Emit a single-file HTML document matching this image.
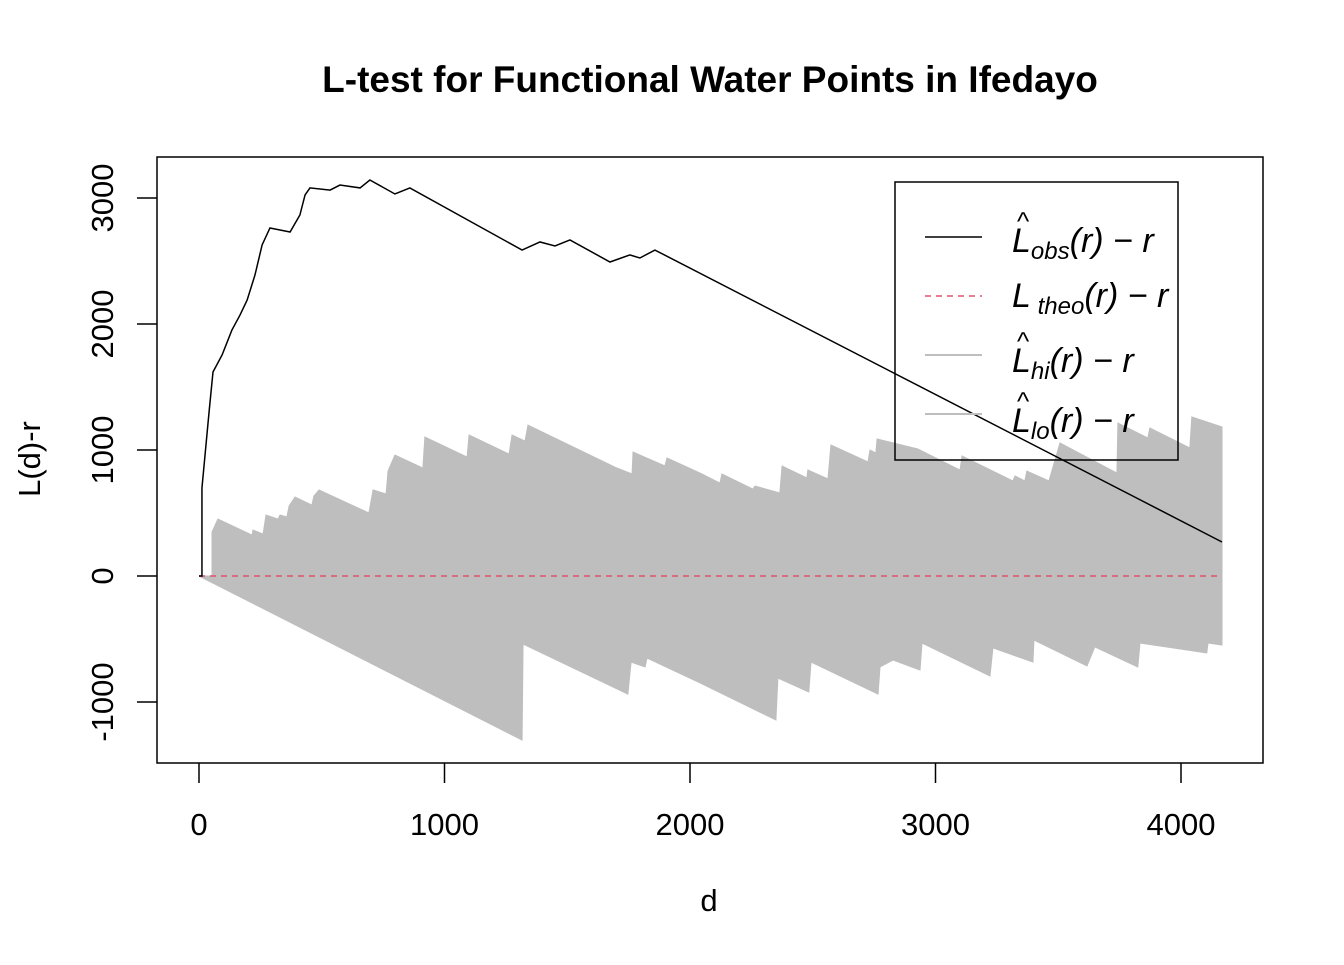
<!DOCTYPE html>
<html><head><meta charset="utf-8"><style>
body{margin:0;background:#fff}
svg text{font-family:"Liberation Sans",Arial,sans-serif}
.m{font-family:"Liberation Serif",serif;font-style:italic}
</style></head><body>
<svg id="chart" width="1344" height="960">
<text x="710" y="92" text-anchor="middle" font-size="37" font-weight="bold">L-test for Functional Water Points in Ifedayo</text>
<g id="plot"></g>
<rect x="157" y="157" width="1106" height="606" fill="none" stroke="#000" stroke-width="1.5"/>
<g id="axes"></g>
<text x="709" y="911" text-anchor="middle" font-size="31">d</text>
<text transform="translate(40,459) rotate(-90)" text-anchor="middle" font-size="31">L(d)-r</text>
<g>
<rect x="895" y="182" width="283" height="278" fill="none" stroke="#000" stroke-width="1.5"/>
<line x1="925" y1="237" x2="982" y2="237" stroke="#000" stroke-width="1.5"/>
<line x1="925" y1="296" x2="982" y2="296" stroke="#DF536B" stroke-width="1.5" stroke-dasharray="6,5"/>
<line x1="925" y1="355" x2="982" y2="355" stroke="#bebebe" stroke-width="2"/>
<line x1="925" y1="414" x2="982" y2="414" stroke="#bebebe" stroke-width="2"/>
<g class="m" font-size="34">
<text x="1012" y="252">L<tspan font-size="24" dy="7">obs</tspan><tspan dy="-7">(r) − r</tspan></text>
<text x="1017" y="230" font-size="26" font-style="normal">^</text>
<text x="1012" y="307">L<tspan font-size="24" dy="7"> theo</tspan><tspan dy="-7">(r) − r</tspan></text>
<text x="1012" y="372">L<tspan font-size="24" dy="7">hi</tspan><tspan dy="-7">(r) − r</tspan></text>
<text x="1017" y="350" font-size="26" font-style="normal">^</text>
<text x="1012" y="432">L<tspan font-size="24" dy="7">lo</tspan><tspan dy="-7">(r) − r</tspan></text>
<text x="1017" y="410" font-size="26" font-style="normal">^</text>
</g></g>
</svg>
<script>
const xTicks=[0,1000,2000,3000,4000];
const yTicks=[-1000,0,1000,2000,3000];
const hiD=[0,53,53,77,216,220,261,273,322,330,358,367,391,460,468,489,692,709,762,770,798,912,920,1092,1100,1263,1275,1328,1340,1702,1764,1768,1898,1906,2041,2122,2130,2256,2265,2366,2375,2476,2480,2562,2574,2725,2733,2757,2762,2928,3100,3108,3315,3324,3364,3372,3462,3507,3739,3743,3865,3873,4036,4044,4167];
const hiV=[0,0,349,452,325,365,333,484,452,484,468,556,627,563,635,683,500,683,651,833,960,857,1103,944,1119,968,1119,1071,1198,857,810,984,873,937,817,738,810,690,714,659,873,778,841,770,1040,905,1000,976,1087,1008,841,952,754,794,754,833,754,1056,817,1214,1095,1175,1016,1262,1183];
const loD=[0,1316,1320,1747,1760,1817,1825,2041,2350,2358,2484,2493,2766,2774,2827,2937,2945,3222,3234,3397,3401,3617,3649,3824,3833,4105,4110,4167];
const loV=[0,-1302,-540,-937,-683,-722,-651,-849,-1143,-810,-921,-683,-937,-722,-667,-746,-532,-794,-571,-683,-508,-714,-563,-722,-532,-611,-532,-548];
const obsD=[0,12,12,41,57,94,134,167,196,228,257,289,371,411,432,452,534,574,656,696,798,859,1316,1389,1450,1511,1674,1755,1796,1857,4167];
const obsV=[0,0,698,1302,1619,1754,1952,2071,2190,2389,2627,2762,2730,2865,3024,3080,3063,3103,3080,3143,3032,3080,2587,2651,2619,2667,2492,2548,2524,2587,270];
const theoD=[0,4167];
const theoV=[0,0];
const X=d=>199+d*0.2455, Y=v=>576-v*0.126;
const NS="http://www.w3.org/2000/svg";
const plot=document.getElementById('plot'), axes=document.getElementById('axes');
function mk(t,a,p){const e=document.createElementNS(NS,t);for(const k in a)e.setAttribute(k,a[k]);p.appendChild(e);return e;}
let pts=hiD.map((d,i)=>X(d)+','+Y(hiV[i]));
for(let i=loD.length-1;i>=0;i--)pts.push(X(loD[i])+','+Y(loV[i]));
const env=mk('polygon',{points:pts.join(' '),fill:'#bebebe',stroke:'#bebebe','stroke-width':1},plot);


const th=mk('polyline',{points:theoD.map((d,i)=>X(d)+','+Y(theoV[i])).join(' '),fill:'none',stroke:'#DF536B','stroke-width':1.5,'stroke-dasharray':'6,5'},plot);


const ob=mk('polyline',{points:obsD.map((d,i)=>X(d)+','+Y(obsV[i])).join(' '),fill:'none',stroke:'#000','stroke-width':1.5},plot);


xTicks.forEach(t=>{
 const l=mk('line',{x1:X(t),x2:X(t),y1:763,y2:783,stroke:'#000','stroke-width':1.5},axes);
 
 
 const tx=mk('text',{x:X(t),y:835,'text-anchor':'middle','font-size':31},axes);tx.textContent=t;
 
 
});
yTicks.forEach(t=>{
 const l=mk('line',{x1:137,x2:157,y1:Y(t),y2:Y(t),stroke:'#000','stroke-width':1.5},axes);
 
 
 const tx=mk('text',{transform:`translate(113,${Y(t)}) rotate(-90)`,'text-anchor':'middle','font-size':31},axes);tx.textContent=t;
 
 
});
</script>
</body></html>
